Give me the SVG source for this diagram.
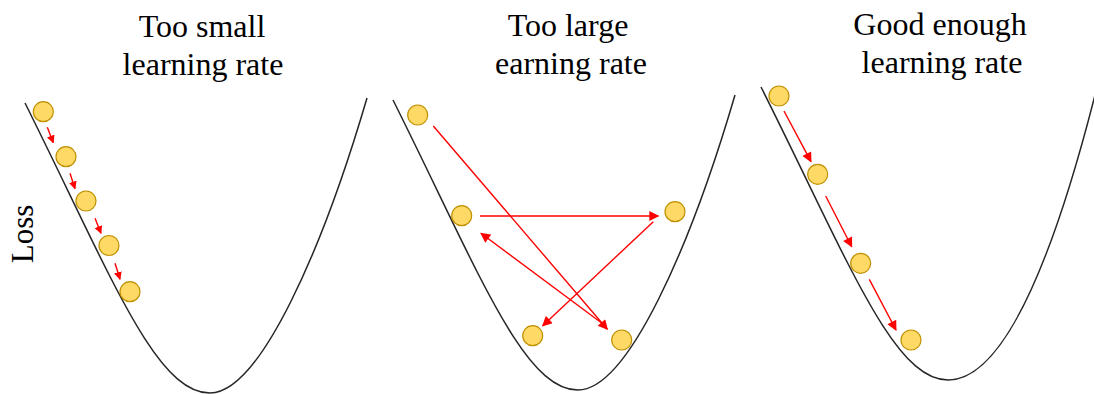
<svg xmlns="http://www.w3.org/2000/svg" width="1094" height="394" viewBox="0 0 1094 394">
<style>
.t{font-family:'Liberation Serif',serif;font-size:32px;fill:#000;text-anchor:middle}
.curve{fill:none;stroke:#262626;stroke-width:1.5}
.ball{fill:#FFD966;stroke:#BF9000;stroke-width:1.2}
.a{fill:none;stroke:#FF0000;stroke-width:1.4}
.as{marker-end:url(#hs)}
.al{marker-end:url(#hl)}
</style>
<defs>
<path id="bowl" d="M-185,-290 C-100,-120 -55,0 0,0 C50,0 113,-145 157,-295"/>
<path id="bowl3" d="M-187,-293 C-100,-120 -55,0 0,0 C60,0 110,-140 147,-285"/>
<marker id="hs" viewBox="0 0 10 10" refX="9" refY="5" markerUnits="userSpaceOnUse" markerWidth="8" markerHeight="8" orient="auto"><path d="M0,0 L10,5 L0,10 Z" fill="#FF0000"/></marker>
<marker id="hl" viewBox="0 0 10 10" refX="9" refY="5" markerUnits="userSpaceOnUse" markerWidth="11" markerHeight="10" orient="auto"><path d="M0,0 L10,5 L0,10 Z" fill="#FF0000"/></marker>
</defs>
<g id="titles">
<text class="t" x="202" y="37">Too small</text>
<text class="t" x="203" y="75">learning rate</text>
<text class="t" x="568" y="36">Too large</text>
<text class="t" x="571" y="74">earning rate</text>
<text class="t" x="940" y="35">Good enough</text>
<text class="t" x="942" y="73">learning rate</text>
<text class="t" style="font-size:31px" transform="translate(33,234) rotate(-90)">Loss</text>
</g>
<g id="curves">
<use href="#bowl" class="curve" transform="translate(210,393)"/>
<use href="#bowl" class="curve" transform="translate(578,390)"/>
<use href="#bowl3" class="curve" transform="translate(948,380)"/>
</g>
<g id="connectors">
<line class="a as" x1="47.3" y1="127.3" x2="53.3" y2="142.7"/>
<line class="a as" x1="70" y1="173.3" x2="75" y2="188.7"/>
<line class="a as" x1="95" y1="218.3" x2="101" y2="233.3"/>
<line class="a as" x1="115" y1="263.3" x2="120" y2="279.3"/>
<line class="a al" x1="433.3" y1="126" x2="607.3" y2="329.3"/>
<line class="a al" x1="480" y1="216" x2="658.3" y2="216"/>
<line class="a al" x1="653.3" y1="221.7" x2="542.7" y2="325.7"/>
<line class="a al" x1="603" y1="324" x2="481" y2="233.3"/>
<line class="a al" x1="784" y1="111" x2="811" y2="161.7"/>
<line class="a al" x1="825.7" y1="196" x2="851.7" y2="246.7"/>
<line class="a al" x1="869.3" y1="279.3" x2="896" y2="330"/>
</g>
<g id="balls-small">
<circle class="ball" cx="43.3" cy="111.7" r="10"/>
<circle class="ball" cx="66" cy="156.7" r="10"/>
<circle class="ball" cx="86" cy="201" r="10"/>
<circle class="ball" cx="109" cy="245.5" r="10"/>
<circle class="ball" cx="130" cy="291.7" r="10"/>
</g>
<g id="balls-large">
<circle class="ball" cx="417.7" cy="115" r="10"/>
<circle class="ball" cx="461.7" cy="215.7" r="10"/>
<circle class="ball" cx="675" cy="211.7" r="10"/>
<circle class="ball" cx="532.7" cy="335.7" r="10"/>
<circle class="ball" cx="621.7" cy="340" r="10"/>
</g>
<g id="balls-good">
<circle class="ball" cx="779" cy="96" r="10"/>
<circle class="ball" cx="817.7" cy="174.3" r="10"/>
<circle class="ball" cx="860.7" cy="263.3" r="10"/>
<circle class="ball" cx="911" cy="340" r="10"/>
</g>
</svg>
